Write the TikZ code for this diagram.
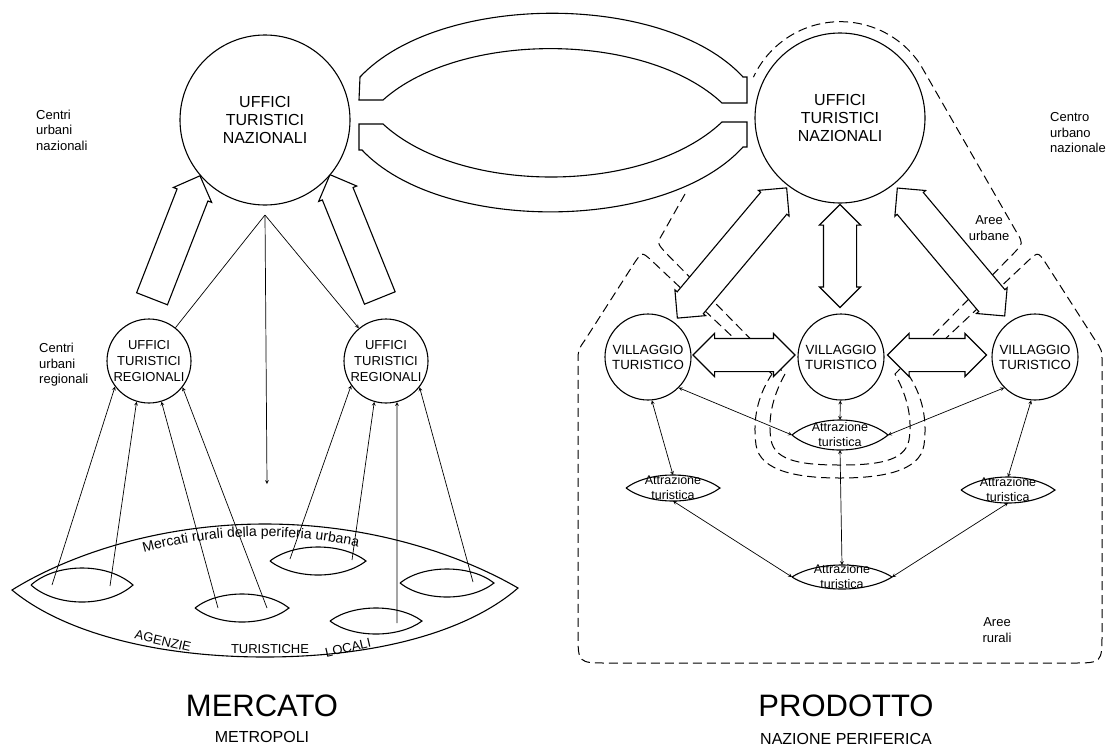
\documentclass[tikz,border=0pt]{standalone}
\usepackage{fontspec}
\setmainfont{Liberation Sans}
\usetikzlibrary{arrows,shapes.arrows,decorations.text}
\tikzstyle{office} = [circle,draw,line width=1.1pt,fill=white,align=center,inner sep=0pt]
\tikzstyle{note} = [align=left,inner sep=0pt,font=\fontsize{13}{15.5}\selectfont]
\tikzstyle{spot} = [align=center,inner sep=0pt,font=\fontsize{12.5}{15}\selectfont]
\tikzstyle{band} = [draw,line width=1.1pt,fill=white,inner sep=0pt]
\tikzstyle{fat} = [band,single arrow,inner ysep=16pt,single arrow head extend=4pt,single arrow tip angle=90]
\tikzstyle{fatboth} = [band,double arrow,inner ysep=16pt,double arrow head extend=4pt,double arrow tip angle=90]
\tikzstyle{link} = [line width=0.7pt,->,>=stealth]
\tikzstyle{twoway} = [line width=0.7pt,<->,>=stealth]
\tikzstyle{border} = [line width=1pt,dash pattern=on 9pt off 5pt]
\newcommand{\lens}[5]{%
  \coordinate (#1-w) at ({#2-#4},#3);
  \coordinate (#1-e) at ({#2+#4},#3);
  \coordinate (#1-n) at (#2,{#3-#5});
  \coordinate (#1-s) at (#2,{#3+#5});
  \draw[line width=1.1pt] (#1-w) .. controls ({#2-#4/2},{#3-#5*4/3}) and ({#2+#4/2},{#3-#5*4/3}) .. (#1-e)
    .. controls ({#2+#4/2},{#3+#5*4/3}) and ({#2-#4/2},{#3+#5*4/3}) .. (#1-w);}

\begin{document}
\begin{tikzpicture}[x=1pt,y=-1pt]
	\useasboundingbox (0,0) rectangle (1110,747);
	% urban and rural zones
	\draw[border] (685,194) -- (663,233) .. controls (657,243) .. (665,252) -- (785,374)
		.. controls (775,392) and (767,415) .. (771,440) .. controls (775,462) and (805,465) .. (840,465)
		.. controls (875,465) and (905,462) .. (909,440) .. controls (913,415) and (905,392) .. (895,374)
		-- (1015,252) .. controls (1023,243) .. (1017,233) -- (920,64) arc[start angle=326,end angle=205,radius=96];
	\draw[border] (772,374) -- (651,260) .. controls (642,252) .. (635,262) -- (585,340) .. controls (578,350) .. (578,362)
		-- (578,633) .. controls (578,663) .. (608,663) -- (1072,663) .. controls (1102,663) .. (1102,633)
		-- (1102,362) .. controls (1102,350) .. (1095,340) -- (1045,262) .. controls (1038,252) .. (1029,260)
		-- (908,374) .. controls (920,392) and (928,415) .. (924,445) .. controls (920,472) and (880,478) .. (840,478)
		.. controls (800,478) and (760,472) .. (756,445) .. controls (752,415) and (760,392) .. (772,374);

	% flows between the two national offices
	\draw[band] (360,77) .. controls (440,-8) and (665,-8) .. (743,77) -- (747,77) -- (747,103) -- (722,103)
		.. controls (645,31) and (460,31) .. (383,100) -- (359,100) -- cycle;
	\draw[band] (359,124) -- (383,124) .. controls (460,195) and (645,195) .. (722,122) -- (747,122) -- (747,147)
		-- (743,147) .. controls (665,233) and (440,233) .. (362,150) -- (359,150) -- cycle;

	\node[fat,minimum height=132pt,rotate=68.7] (upL) at (173,245) {};
	\node[fat,minimum height=133pt,rotate=112] (upR) at (358,244) {};
	\node[fatboth,inner ysep=16.5pt,double arrow head extend=3pt,minimum height=170pt,rotate=50] (diagL) at (732,253) {};
	\node[fatboth,inner ysep=16.5pt,double arrow head extend=3pt,minimum height=167pt,rotate=130] (diagR) at (951,252) {};
	\node[fatboth,minimum height=103pt,rotate=90] (vert) at (840,256) {};
	\node[fatboth,double arrow head extend=5pt,minimum height=102pt] (horL) at (744,355) {};
	\node[fatboth,double arrow head extend=5pt,minimum height=99pt] (horR) at (937,355) {};

	\node[office,minimum size=170pt,font=\fontsize{16}{18}\selectfont] (natL) at (265,120) {UFFICI\\TURISTICI\\NAZIONALI};
	\node[office,minimum size=170pt,font=\fontsize{16}{18}\selectfont] (natR) at (840,118) {UFFICI\\TURISTICI\\NAZIONALI};
	\node[office,minimum size=84pt,font=\fontsize{13}{16}\selectfont] (regL) at (149,361) {UFFICI\\TURISTICI\\REGIONALI};
	\node[office,minimum size=84pt,font=\fontsize{13}{16}\selectfont] (regR) at (386,361) {UFFICI\\TURISTICI\\REGIONALI};
	\foreach \n/\x in {vilL/648,vilC/841,vilR/1035} {
		\node[office,minimum size=86pt,font=\fontsize{13.3}{15}\selectfont] (\n) at (\x,357) {VILLAGGIO\\TURISTICO};
	}

	\node[note,anchor=west] (cnL) at (36,130) {Centri\\urbani\\nazionali};
	\node[note,anchor=west] (crL) at (39,365) {Centri\\urbani\\regionali};
	\node[note,anchor=west] (cnR) at (1050,133) {Centro\\urbano\\nazionale};
	\node[note,align=center] (urb) at (989,228) {Aree\\urbane};
	\node[note,align=center] (rur) at (997,630) {Aree\\rurali};

	% rural markets of the metropolis
	\draw[line width=1.1pt] (12,590) .. controls (60,560) and (150,524) .. (265,524) .. controls (380,524) and (470,560) .. (518,588)
		.. controls (470,630) and (380,657) .. (265,657) .. controls (150,657) and (60,630) .. (12,590) -- cycle;
	\path[decorate,decoration={text along path,text align=center,
		text={|\fontsize{14}{16}\selectfont|Mercati rurali della periferia urbana}}]
		(128,557) .. controls (210,531) and (300,531) .. (374,551);
	\node[font=\fontsize{13}{15}\selectfont,rotate=-13] (agz) at (163,641) {AGENZIE};
	\node[font=\fontsize{13}{15}\selectfont] (tur) at (270,649) {TURISTICHE};
	\node[font=\fontsize{13}{15}\selectfont,rotate=13] (loc) at (348,648) {LOCALI};
	\foreach \n/\x/\y/\w/\h in {m1/82/585/51/17,m2/242/608/47/14,m3/318/561/48/14,m4/447/583/47/14,m5/376/621/46/13} {
		\lens{\n}{\x}{\y}{\w}{\h}
	}
	\coordinate (m1a) at (52,585);
	\coordinate (m1b) at (110,586);
	\coordinate (m2a) at (218,608);
	\coordinate (m2b) at (267,608);
	\coordinate (m3a) at (290,559);
	\coordinate (m3b) at (352,560);
	\coordinate (m5a) at (397,623);
	\coordinate (m4a) at (473,582);
	\foreach \s/\a in {m1a/217,m1b/253,m2a/287,m2b/322} {
		\draw[link] (\s) -- (regL.\a);
	}
	\foreach \s/\a in {m3a/215,m3b/254,m5a/285,m4a/322} {
		\draw[link] (\s) -- (regR.\a);
	}
	\coordinate (apex) at (265,215);
	\coordinate (drop) at (267,484);
	\draw[link] (apex) -- (drop);
	\draw[line width=0.7pt] (apex) -- (regL);
	\draw[link] (apex) -- (regR);

	% tourist attractions of the product
	\node[spot] (sightC) at (840,435) {Attrazione\\turistica};
	\node[spot] (sightL) at (673,488) {Attrazione\\turistica};
	\node[spot] (sightR) at (1008,490) {Attrazione\\turistica};
	\node[spot] (sightB) at (842,577) {Attrazione\\turistica};
	\lens{sightC}{840}{435}{48}{15}
	\lens{sightL}{673}{488}{47}{13}
	\lens{sightR}{1008}{490}{47}{13}
	\lens{sightB}{842}{577}{50}{12}
	\draw[twoway] (vilL.-45) -- (sightC-w);
	\draw[twoway] (vilR.-135) -- (sightC-e);
	\draw[twoway] (vilC) -- (sightC-n);
	\draw[twoway] (vilL.275) -- (sightL-n);
	\draw[twoway] (vilR.265) -- (sightR-n);
	\draw[twoway] (sightC-s) -- (sightB-n);
	\draw[twoway] (sightL-s) -- (sightB-w);
	\draw[twoway] (sightR-s) -- (sightB-e);

	\node[font=\fontsize{31}{36}\selectfont] (mercato) at (262,706) {MERCATO};
	\node[font=\fontsize{16}{18}\selectfont] (metro) at (262,737) {METROPOLI};
	\node[font=\fontsize{31}{36}\selectfont] (prodotto) at (846,706) {PRODOTTO};
	\node[font=\fontsize{16}{18}\selectfont] (nazione) at (846,739) {NAZIONE PERIFERICA};
\end{tikzpicture}
\end{document}
